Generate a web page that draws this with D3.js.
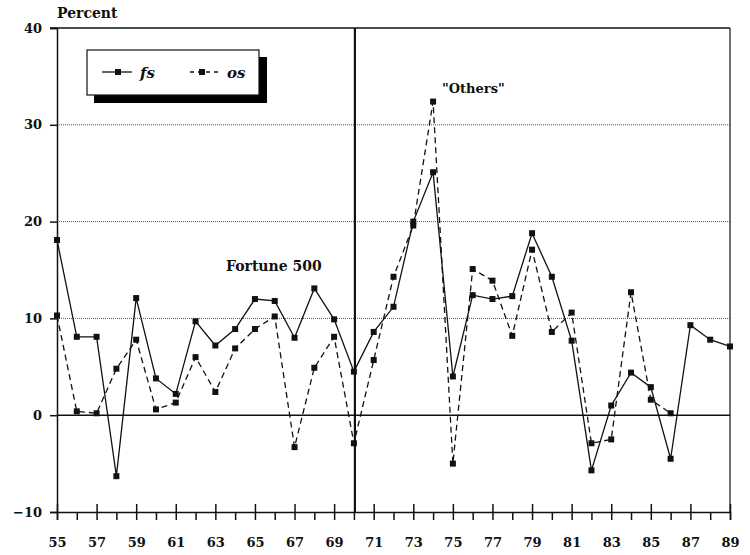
<!DOCTYPE html>
<html><head><meta charset="utf-8">
<script src="https://cdn.jsdelivr.net/npm/d3@7/dist/d3.min.js"></script>
<style>body{margin:0;background:#fff}svg{display:block}</style>
</head><body>
<script>
const years = [55,56,57,58,59,60,61,62,63,64,65,66,67,68,69,70,71,72,73,74,75,76,77,78,79,80,81,82,83,84,85,86,87,88,89];
const fsValues = [18.1,8.1,8.1,-6.3,12.1,3.8,2.2,9.7,7.2,8.9,12.0,11.8,8.0,13.1,9.9,4.5,8.6,11.2,20.0,25.1,4.0,12.4,12.0,12.3,18.8,14.3,7.7,-5.7,1.0,4.4,2.9,-4.5,9.3,7.8,7.1];
const osValues = [10.3,0.4,0.2,4.8,7.8,0.6,1.3,6.0,2.4,6.9,8.9,10.2,-3.3,4.9,8.1,-2.9,5.7,14.3,19.6,32.4,-5.0,15.1,13.9,8.2,17.1,8.6,10.6,-2.9,-2.5,12.7,1.6,0.2];
const yTicks = [-10,0,10,20,30,40];
const gridVals = [10,20,30];

const W = 750, H = 555;
const svg = d3.select("body").append("svg").attr("width", W).attr("height", H);
const x = d3.scaleLinear().domain([55,89]).range([57,730]);
const y = d3.scaleLinear().domain([-10,40]).range([512,28]);
const numFont = "'DejaVu Serif', serif";
const serif = "'DejaVu Serif', serif";

// grid
svg.selectAll("line.grid").data(gridVals).enter().append("line")
  .attr("x1", x(55)).attr("x2", x(89)).attr("y1", d => y(d)).attr("y2", d => y(d))
  .attr("stroke", "#555").attr("stroke-width", 1).attr("stroke-dasharray", "1,1");
// zero line
svg.append("line").attr("x1", x(55)).attr("x2", x(89)).attr("y1", y(0)).attr("y2", y(0))
  .attr("stroke", "#111").attr("stroke-width", 1.5);
// frame top & right
svg.append("line").attr("x1", x(55)-7).attr("x2", x(89)).attr("y1", y(40)).attr("y2", y(40)).attr("stroke", "#111").attr("stroke-width", 1.5);
svg.append("line").attr("x1", x(89)).attr("x2", x(89)).attr("y1", y(40)).attr("y2", y(-10)).attr("stroke", "#111").attr("stroke-width", 1.2);

// y axis
const yAxis = d3.axisLeft(y).tickValues(yTicks).tickSize(7).tickPadding(8).tickFormat(d => d < 0 ? "\u2212" + Math.abs(d) : d);
const gy = svg.append("g").attr("transform", `translate(${x(55)},0)`).call(yAxis);
gy.select(".domain").attr("stroke", "#111").attr("stroke-width", 1.5);
gy.selectAll(".tick line").attr("stroke", "#111").attr("stroke-width", 1.5);
gy.selectAll("text").attr("font-family", numFont).attr("font-weight", "bold").attr("font-size", 13).attr("fill", "#111");

// x axis
const xAxis = d3.axisBottom(x).tickValues(years).tickSize(8).tickPadding(18).tickFormat(d => d % 2 === 1 ? d : "");
const gx = svg.append("g").attr("transform", `translate(0,${y(-10)})`).call(xAxis);
gx.select(".domain").attr("stroke", "#111").attr("stroke-width", 1.5);
gx.selectAll(".tick line").attr("stroke", "#111").attr("stroke-width", 1.5)
  .attr("y1", d => d % 2 === 1 ? -8 : 0);
gx.selectAll("text").attr("font-family", numFont).attr("font-weight", "bold").attr("font-size", 13).attr("fill", "#111");

// vertical divider at 1970
svg.append("line").attr("x1", x(70.05)).attr("x2", x(70.05)).attr("y1", y(40)).attr("y2", y(-10))
  .attr("stroke", "#111").attr("stroke-width", 2.2);

// series
const fsData = years.map((yr,i) => ({yr, v: fsValues[i]}));
const osData = osValues.map((v,i) => ({yr: years[i], v}));
const line = d3.line().x(d => x(d.yr)).y(d => y(d.v));
svg.append("path").datum(osData).attr("d", line).attr("fill", "none").attr("stroke", "#111")
  .attr("stroke-width", 1.3).attr("stroke-dasharray", "6,4");
svg.append("path").datum(fsData).attr("d", line).attr("fill", "none").attr("stroke", "#111").attr("stroke-width", 1.3);
const ms = 6;
svg.selectAll("rect.os").data(osData).enter().append("rect")
  .attr("x", d => x(d.yr)-ms/2).attr("y", d => y(d.v)-ms/2).attr("width", ms).attr("height", ms).attr("fill", "#111");
svg.selectAll("rect.fs").data(fsData).enter().append("rect")
  .attr("x", d => x(d.yr)-ms/2).attr("y", d => y(d.v)-ms/2).attr("width", ms).attr("height", ms).attr("fill", "#111");

// labels
svg.append("text").attr("x", 57).attr("y", 18).text("Percent")
  .attr("font-family", serif).attr("font-weight", "bold").attr("font-size", 14).attr("fill", "#111");
svg.append("text").attr("x", 226).attr("y", 271).text("Fortune 500")
  .attr("font-family", serif).attr("font-weight", "bold").attr("font-size", 14).attr("fill", "#111");
svg.append("text").attr("x", 442).attr("y", 93).text("\"Others\"")
  .attr("font-family", serif).attr("font-weight", "bold").attr("font-size", 13).attr("fill", "#111");

// legend
const lg = svg.append("g");
lg.append("rect").attr("x", 94).attr("y", 57).attr("width", 173).attr("height", 46).attr("fill", "#000");
lg.append("rect").attr("x", 87).attr("y", 50).attr("width", 172).attr("height", 45).attr("fill", "#fff").attr("stroke", "#111").attr("stroke-width", 1.2);
lg.append("line").attr("x1", 102).attr("x2", 132).attr("y1", 72).attr("y2", 72).attr("stroke", "#111").attr("stroke-width", 1.3);
lg.append("rect").attr("x", 118-3).attr("y", 72-3).attr("width", 6).attr("height", 6).attr("fill", "#111");
lg.append("text").attr("x", 140).attr("y", 78).text("fs").attr("font-family", serif).attr("font-weight", "bold").attr("font-style", "italic").attr("font-size", 15).attr("fill", "#111");
lg.append("line").attr("x1", 190).attr("x2", 218).attr("y1", 72).attr("y2", 72).attr("stroke", "#111").attr("stroke-width", 1.3).attr("stroke-dasharray", "4,4");
lg.append("rect").attr("x", 202-3).attr("y", 72-3).attr("width", 6).attr("height", 6).attr("fill", "#111");
lg.append("text").attr("x", 227).attr("y", 78).text("os").attr("font-family", serif).attr("font-weight", "bold").attr("font-style", "italic").attr("font-size", 15).attr("fill", "#111");
</script>
</body></html>
